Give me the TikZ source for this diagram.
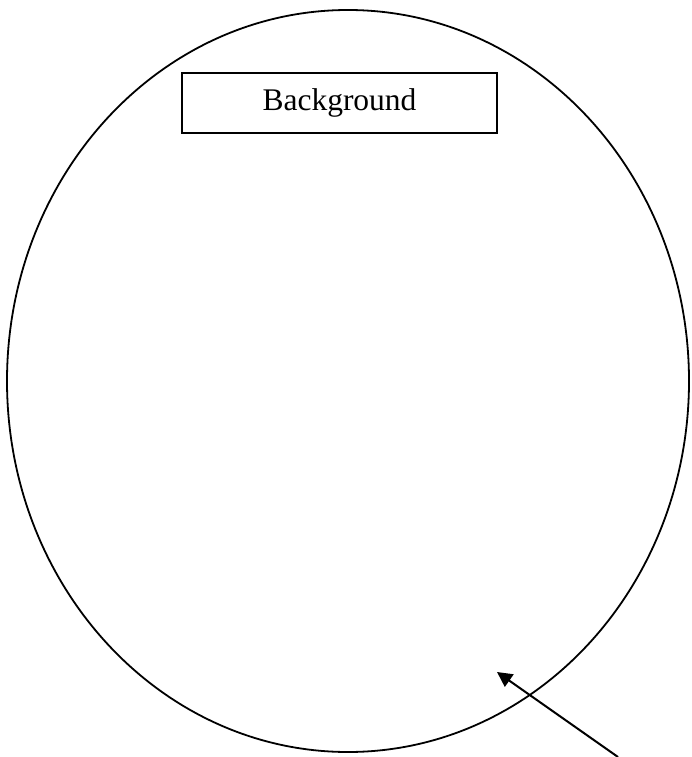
\documentclass[tikz,border=0pt]{standalone}
\usepackage{fontspec}
\setmainfont{Liberation Serif}
\usetikzlibrary{arrows.meta}
\begin{document}
\begin{tikzpicture}[x=1pt, y=-1pt,
    labelbox/.style={draw, line width=2pt, minimum width=315pt, minimum height=60pt,
        font=\fontsize{31.5}{38}\selectfont}]
    \useasboundingbox (0,0) rectangle (691,757);
    % Outer region
    \draw[line width=1.8pt] (348,381) ellipse [x radius=341, y radius=371];
    \node[labelbox] (bg) at (339.5,103) {Background};

    % Pointer
    \coordinate (tail) at (618,757);
    \coordinate (tip) at (497,672);
    \draw[line width=2pt, -{Triangle[length=15pt,width=15pt]}] (tail) -- (tip);
\end{tikzpicture}
\end{document}
